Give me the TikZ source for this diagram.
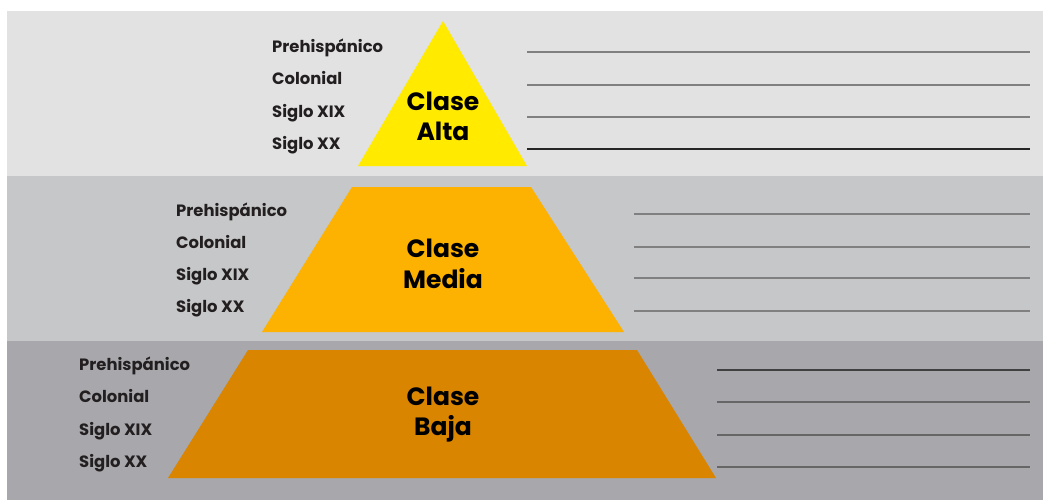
\documentclass[tikz,border=0pt]{standalone}
\usepackage{fontspec}
\setmainfont{Poppins}[UprightFont=* Bold]
\definecolor{bandA}{HTML}{E2E2E2}
\definecolor{bandB}{HTML}{C6C7C8}
\definecolor{bandC}{HTML}{A8A7AB}
\definecolor{alta}{HTML}{FFEA00}
\definecolor{media}{HTML}{FDB100}
\definecolor{baja}{HTML}{D98500}
\definecolor{ink}{HTML}{231F20}
\begin{document}
\begin{tikzpicture}[x=1pt,y=-1pt]
				\tikzstyle{Era} = [anchor=base west, inner sep=0pt, text=ink, font=\fontsize{16.4}{18}\selectfont]
				\tikzstyle{Clase} = [align=center, inner sep=0pt, text=black, font=\fontsize{25}{30.5}\selectfont]
				\tikzstyle{Blank} = [line width=1.2pt, draw=black!50]
				\useasboundingbox (0,0) rectangle (1043,500);
				\fill[white] (0,0) rectangle (1043,500);
				% bands
				\fill[bandA] (7,11) rectangle (1043,176);
				\fill[bandB] (7,176) rectangle (1043,341);
				\fill[bandC] (7,341) rectangle (1043,500);
				% pyramid
				\fill[alta] (443,21) -- (527,166) -- (358,166) -- cycle;
				\fill[media] (352,187) -- (531,187) -- (624,332) -- (262,332) -- cycle;
				\fill[baja] (248,350) -- (637,350) -- (716,478) -- (168,478) -- cycle;
				\node (alta) at (443,116.5) [Clase] {Clase\\Alta};
				\node (media) at (443,264) [Clase] {Clase\\Media};
				\node (baja) at (443,414.5) [Clase] {Clase\\Baja};
				% top band
				\node (a1) at (272,52.7) [Era] {Prehispánico};
				\node (a2) at (272,85) [Era] {Colonial};
				\node (a3) at (272,117.3) [Era] {Siglo XIX};
				\node (a4) at (272,149.5) [Era] {Siglo XX};
				\coordinate (la1) at (527,52);  \coordinate (ra1) at (1030,52);
				\coordinate (la2) at (527,85);  \coordinate (ra2) at (1030,85);
				\coordinate (la3) at (527,117); \coordinate (ra3) at (1030,117);
				\coordinate (la4) at (527,149); \coordinate (ra4) at (1030,149);
				\draw [Blank] (la1) -- (ra1);
				\draw [Blank] (la2) -- (ra2);
				\draw [Blank] (la3) -- (ra3);
				\draw [Blank, draw=black!85] (la4) -- (ra4);
				% middle band
				\node (b1) at (176,216) [Era] {Prehispánico};
				\node (b2) at (176,248) [Era] {Colonial};
				\node (b3) at (176,280) [Era] {Siglo XIX};
				\node (b4) at (176,312.5) [Era] {Siglo XX};
				\coordinate (lb1) at (634,214); \coordinate (rb1) at (1030,214);
				\coordinate (lb2) at (634,247); \coordinate (rb2) at (1030,247);
				\coordinate (lb3) at (634,278); \coordinate (rb3) at (1030,278);
				\coordinate (lb4) at (634,311); \coordinate (rb4) at (1030,311);
				\draw [Blank] (lb1) -- (rb1);
				\draw [Blank] (lb2) -- (rb2);
				\draw [Blank] (lb3) -- (rb3);
				\draw [Blank] (lb4) -- (rb4);
				% bottom band
				\node (c1) at (79,370) [Era] {Prehispánico};
				\node (c2) at (79,402.5) [Era] {Colonial};
				\node (c3) at (79,435) [Era] {Siglo XIX};
				\node (c4) at (79,467.5) [Era] {Siglo XX};
				\coordinate (lc1) at (717,370); \coordinate (rc1) at (1030,370);
				\coordinate (lc2) at (717,402); \coordinate (rc2) at (1030,402);
				\coordinate (lc3) at (717,435); \coordinate (rc3) at (1030,435);
				\coordinate (lc4) at (717,467); \coordinate (rc4) at (1030,467);
				\draw [Blank, draw=black!75] (lc1) -- (rc1);
				\draw [Blank, draw=black!60] (lc2) -- (rc2);
				\draw [Blank, draw=black!60] (lc3) -- (rc3);
				\draw [Blank, draw=black!60] (lc4) -- (rc4);
			\end{tikzpicture}
\end{document}
